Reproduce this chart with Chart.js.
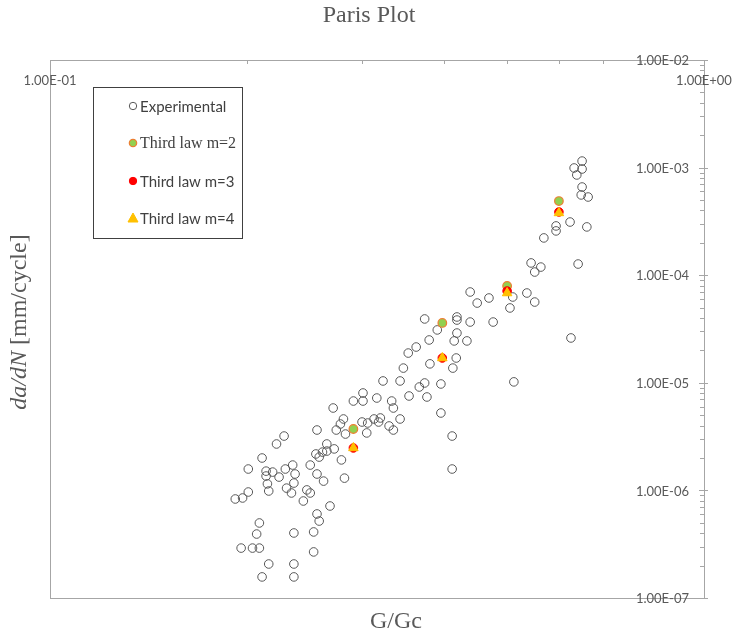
<!DOCTYPE html>
<html>
<head>
<meta charset="utf-8">
<script src="https://cdn.jsdelivr.net/npm/chart.js@4.4.1/dist/chart.umd.min.js"></script>
<style>
  html, body { margin: 0; background: #fff; }
  canvas { display: block; }
</style>
</head>
<body>
<canvas id="parisChart" width="736" height="637"></canvas>
<script>
// Experimental points, G/Gc vs da/dN
const expX = [0.323,0.343,0.301,0.291,0.301,0.316,0.333,0.354,0.335,0.271,
  0.281,0.278,0.256,0.274,0.283,0.300,0.306,0.313,0.320,0.318,
  0.343,0.330,0.335,0.305,0.228,0.222,0.265,0.272,0.265,0.261,
  0.255,0.258,0.211,0.279,0.201,0.214,0.219,0.229,0.235,0.237,
  0.250,0.214,0.224,0.256,0.262,0.282,0.236,0.215,0.230,0.216,
  0.234,0.247,0.250,0.201,0.197,0.192,0.244,0.268,0.256,0.258,
  0.209,0.207,0.236,0.253,0.196,0.204,0.209,0.253,0.216,0.236,
  0.211,0.236,0.651,0.633,0.651,0.639,0.651,0.649,0.665,0.624,
  0.594,0.594,0.662,0.569,0.544,0.563,0.551,0.642,0.439,0.469,
  0.450,0.510,0.536,0.551,0.505,0.374,0.391,0.419,0.419,0.439,
  0.476,0.419,0.380,0.415,0.434,0.363,0.353,0.418,0.381,0.413,
  0.347,0.626,0.374,0.367,0.396,0.512,0.377,0.396,0.412,0.412];
const expY = [1.04e-5,1.04e-5,8.04e-6,6.77e-6,6.77e-6,7.22e-6,6.77e-6,7.54e-6,5.83e-6,5.83e-6,
  4.61e-6,4.14e-6,3.64e-6,3.64e-6,3.34e-6,4.32e-6,4.23e-6,4.61e-6,4.71e-6,4.32e-6,
  4.61e-6,3.97e-6,3.64e-6,3.42e-6,3.20e-6,2.70e-6,2.70e-6,2.43e-6,2.32e-6,2.27e-6,
  2.18e-6,2.04e-6,2.00e-6,1.92e-6,1.58e-6,1.51e-6,1.48e-6,1.58e-6,1.72e-6,1.42e-6,
  1.72e-6,1.36e-6,1.33e-6,1.42e-6,1.22e-6,1.30e-6,1.17e-6,1.15e-6,1.05e-6,9.87e-7,
  9.46e-7,1.01e-6,9.46e-7,9.66e-7,8.50e-7,8.32e-7,7.97e-7,7.16e-7,6.04e-7,5.19e-7,
  4.98e-7,3.93e-7,4.02e-7,4.11e-7,2.91e-7,2.91e-7,2.91e-7,2.68e-7,2.07e-7,2.07e-7,
  1.57e-7,1.57e-7,1.15e-3,9.92e-4,9.70e-4,8.54e-4,6.60e-4,5.57e-4,5.33e-4,3.12e-4,
  2.87e-4,2.58e-4,2.81e-4,2.22e-4,1.30e-4,1.19e-4,1.07e-4,1.27e-4,6.98e-5,6.14e-5,
  5.51e-5,6.27e-5,6.83e-5,5.63e-5,4.96e-5,3.92e-5,3.10e-5,4.09e-5,3.83e-5,3.67e-5,
  3.67e-5,2.90e-5,2.50e-5,2.45e-5,2.45e-5,2.15e-5,1.89e-5,1.70e-5,1.50e-5,1.37e-5,
  1.37e-5,2.61e-5,9.96e-6,9.14e-6,9.75e-6,1.02e-5,7.38e-6,5.24e-6,3.20e-6,1.58e-6];

// Third law predictions
const lawX  = [0.291, 0.398, 0.500, 0.600];
const lawM2 = [3.72e-6, 3.60e-5, 7.94e-5, 4.89e-4];
const lawM3 = [2.48e-6, 1.70e-5, 7.13e-5, 3.87e-4];
const lawM4 = [2.48e-6, 1.70e-5, 6.83e-5, 3.79e-4];

const yDecades = [-7, -6, -5, -4, -3, -2];
const xLabels = ['1.00E-01', '1.00E+00'];

const pts = (xs, ys) => xs.map((x, i) => ({x: x, y: ys[i]}));
const TXT = '#595959';

const axesPlugin = {
  id: 'excelAxes',
  beforeDraw(chart) {
    const ctx = chart.ctx;
    ctx.save();
    ctx.fillStyle = '#fff';
    ctx.fillRect(0, 0, chart.width, chart.height);
    ctx.restore();
  },
  beforeDatasetsDraw(chart) {
    const {ctx, chartArea: a, scales: {x, y}} = chart;
    ctx.save();
    ctx.strokeStyle = '#a6a6a6';
    ctx.lineWidth = 1;
    ctx.strokeRect(Math.round(a.left) + 0.5, Math.round(a.top) + 0.5,
      Math.round(a.right - a.left), Math.round(a.bottom - a.top));
    // x minor ticks along the top
    ctx.beginPath();
    for (let m = 2; m <= 9; m++) {
      const px = Math.round(x.getPixelForValue(m * 0.1)) + 0.5;
      ctx.moveTo(px, a.top); ctx.lineTo(px, a.top + 4);
    }
    // y ticks on the right, pointing in
    yDecades.forEach(k => {
      const py = Math.round(y.getPixelForValue(Math.pow(10, k))) + 0.5;
      ctx.moveTo(a.right - 5, py); ctx.lineTo(a.right + 4, py);
      if (k < -2) {
        for (let m = 2; m <= 9; m++) {
          const q = Math.round(y.getPixelForValue(m * Math.pow(10, k))) + 0.5;
          ctx.moveTo(a.right - 4, q); ctx.lineTo(a.right, q);
        }
      }
    });
    ctx.stroke();

    ctx.fillStyle = TXT;
    ctx.font = '13px Lato';
    ctx.textAlign = 'right';
    ctx.textBaseline = 'middle';
    yDecades.forEach(k => {
      const py = y.getPixelForValue(Math.pow(10, k));
      ctx.fillText('1.00E-0' + (-k), a.right - 15, py + 1);
    });
    ctx.textAlign = 'center';
    ctx.fillText(xLabels[0], x.getPixelForValue(0.1), a.top + 21);
    ctx.fillText(xLabels[1], x.getPixelForValue(1), a.top + 21);

    // titles
    ctx.font = '24px "Liberation Serif"';
    ctx.fillText('Paris Plot', 369, 16);
    ctx.fillText('G/Gc', 396, 622);
    ctx.translate(20, 322);
    ctx.rotate(-Math.PI / 2);
    ctx.textAlign = 'left';
    const it = 'italic 24px "Liberation Serif"', up = '24px "Liberation Serif"';
    ctx.font = it;
    const w1 = ctx.measureText('da/dN').width;
    ctx.font = up;
    const w2 = ctx.measureText(' [mm/cycle]').width;
    let sx = -(w1 + w2) / 2;
    ctx.font = it; ctx.fillText('da/dN', sx, 0);
    ctx.font = up; ctx.fillText(' [mm/cycle]', sx + w1, 0);
    ctx.restore();
  },
  afterDraw(chart) {
    const ctx = chart.ctx;
    ctx.save();
    ctx.fillStyle = '#fff';
    ctx.fillRect(94, 88, 148, 150);
    ctx.strokeStyle = '#404040';
    ctx.lineWidth = 1;
    ctx.strokeRect(93.5, 87.5, 149, 151);
    const rows = [
      {label: 'Experimental', y: 106, font: '15px Lato'},
      {label: 'Third law m=2', y: 143, font: '16px "Liberation Serif"'},
      {label: 'Third law m=3', y: 181, font: '15px Lato'},
      {label: 'Third law m=4', y: 218, font: '15px Lato'}
    ];
    rows.forEach((r, i) => {
      const ds = chart.data.datasets[i];
      ctx.fillStyle = ds.backgroundColor;
      ctx.strokeStyle = ds.borderColor;
      ctx.lineWidth = ds.borderWidth;
      ctx.beginPath();
      if (ds.pointStyle === 'triangle') {
        ctx.moveTo(133, r.y - 5); ctx.lineTo(138, r.y + 4); ctx.lineTo(128, r.y + 4);
        ctx.closePath();
      } else {
        ctx.arc(133, r.y, 3.7, 0, Math.PI * 2);
      }
      ctx.fill(); ctx.stroke();
      ctx.fillStyle = '#404040';
      ctx.font = r.font;
      ctx.textAlign = 'left';
      ctx.textBaseline = 'middle';
      ctx.fillText(r.label, 140, r.y + 1);
    });
    ctx.restore();
  }
};

new Chart(document.getElementById('parisChart'), {
  type: 'scatter',
  data: {
    datasets: [
      {label: 'Experimental', data: pts(expX, expY), order: 4, pointStyle: 'circle', pointRadius: 4.3,
        backgroundColor: 'rgba(255,255,255,0)', borderColor: '#595959', borderWidth: 1},
      {label: 'Third law m=2', data: pts(lawX, lawM2), order: 3, pointStyle: 'circle', pointRadius: 4.3,
        backgroundColor: '#92d050', borderColor: '#ed7d31', borderWidth: 1.2},
      {label: 'Third law m=3', data: pts(lawX, lawM3), order: 2, pointStyle: 'circle', pointRadius: 4.3,
        backgroundColor: '#ff0000', borderColor: '#ff0000', borderWidth: 1},
      {label: 'Third law m=4', data: pts(lawX, lawM4), order: 1, pointStyle: 'triangle', pointRadius: 5.5,
        backgroundColor: '#ffc000', borderColor: '#ffc000', borderWidth: 1}
    ]
  },
  options: {
    responsive: false,
    animation: false,
    layout: {padding: {left: 50, top: 60, right: 32, bottom: 39}},
    plugins: {legend: {display: false}, tooltip: {enabled: false}, title: {display: false}},
    scales: {
      x: {type: 'logarithmic', min: 0.1, max: 1, display: false},
      y: {type: 'logarithmic', min: 1e-7, max: 1e-2, display: false}
    }
  },
  plugins: [axesPlugin]
});
</script>
</body>
</html>
